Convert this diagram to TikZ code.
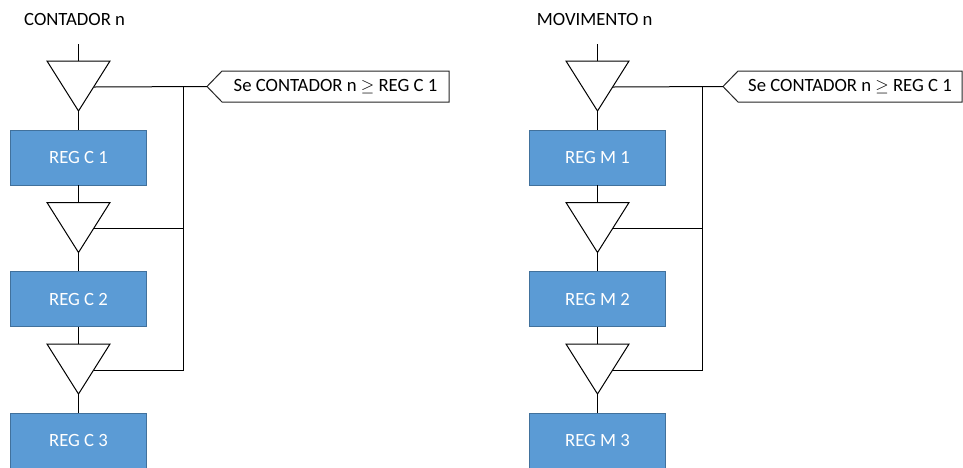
\documentclass[tikz,border=0pt]{standalone}
\usepackage{fontspec}
\setmainfont{Carlito}
\definecolor{regfill}{HTML}{5B9BD5}
\definecolor{regedge}{HTML}{41719C}
\begin{document}
\begin{tikzpicture}[x=1pt,y=-1pt,
  txt/.style={font=\fontsize{18.7pt}{22pt}\selectfont},
  wire/.style={draw=black,line width=1pt},
  tri/.style={draw=black,line width=1pt,fill=white,line join=miter},
  reg/.style={txt,draw=regedge,fill=regfill,line width=0.9pt,
    minimum width=136pt,minimum height=55pt,inner sep=0pt,text=white},
  tagbody/.style={txt,minimum height=31pt,inner sep=0pt},
  tagline/.style={draw=black!85,line width=1pt,fill=white,line join=miter},
  title/.style={txt,anchor=base west,inner sep=0pt}
]
\useasboundingbox (0,0) rectangle (963,467);

\foreach \col/\dx/\ttl/\tx/\bx/\tgw/\tgx in
  {C/0/CONTADOR n/24/183/227/335.5,
   M/519/MOVIMENTO n/536.7/702/224/850}{
  % column title and its feed line
  \node[title] (\col title) at (\tx,25.7) {\ttl};
  \coordinate (\col in) at (78.5+\dx,44);

  % gates (downward triangles) and registers
  \foreach \k/\t/\bc in {1/61/157.5, 2/202.5/299, 3/344/440.5}{
    \coordinate (\col tl\k) at (47+\dx,\t);
    \coordinate (\col tr\k) at (110+\dx,\t);
    \coordinate (\col tm\k) at (78.5+\dx,\t);
    \coordinate (\col ta\k) at (78.5+\dx,\t+50);
    \coordinate (\col tj\k) at (94.1+\dx,\t+26);
    \draw[tri] (\col tl\k) -- (\col tr\k) -- (\col ta\k) -- cycle;
    \node[reg] (\col b\k) at (78.5+\dx,\bc) {REG \col{} \k};
  }

  % condition tag: outline first, then its text on top
  \path (\tgx,86.5) coordinate (\col tagc);
  \path[tagline] ([shift={(-\tgw/2,-15.5)}]\col tagc) coordinate (\col tnw)
    -- ([shift={(\tgw/2,-15.5)}]\col tagc)
    -- ([shift={(\tgw/2,15.5)}]\col tagc)
    -- ([shift={(-\tgw/2,15.5)}]\col tagc) coordinate (\col tsw)
    -- ([shift={(-\tgw/2-15,0)}]\col tagc) coordinate (\col tip)
    -- cycle;
  \node[tagbody,minimum width=\tgw pt] (\col tag) at (\col tagc)
    {Se CONTADOR n $\geq$ REG C 1};

  % bus from the condition to every gate
  \coordinate (\col bus) at (\bx,87);
  \draw[wire] (\col tj1) -- (\col tip);
  \draw[wire] (\col tj3) -| (\col bus);
  \draw[wire] (\col tj2) -- (\col tj2 -| \col bus);

  % data path
  \draw[wire] (\col in) -- (\col tm1);
  \draw[wire] (\col ta1) -- (\col b1.north);
  \draw[wire] (\col b1.south) -- (\col tm2);
  \draw[wire] (\col ta2) -- (\col b2.north);
  \draw[wire] (\col b2.south) -- (\col tm3);
  \draw[wire] (\col ta3) -- (\col b3.north);
}
\end{tikzpicture}
\end{document}
